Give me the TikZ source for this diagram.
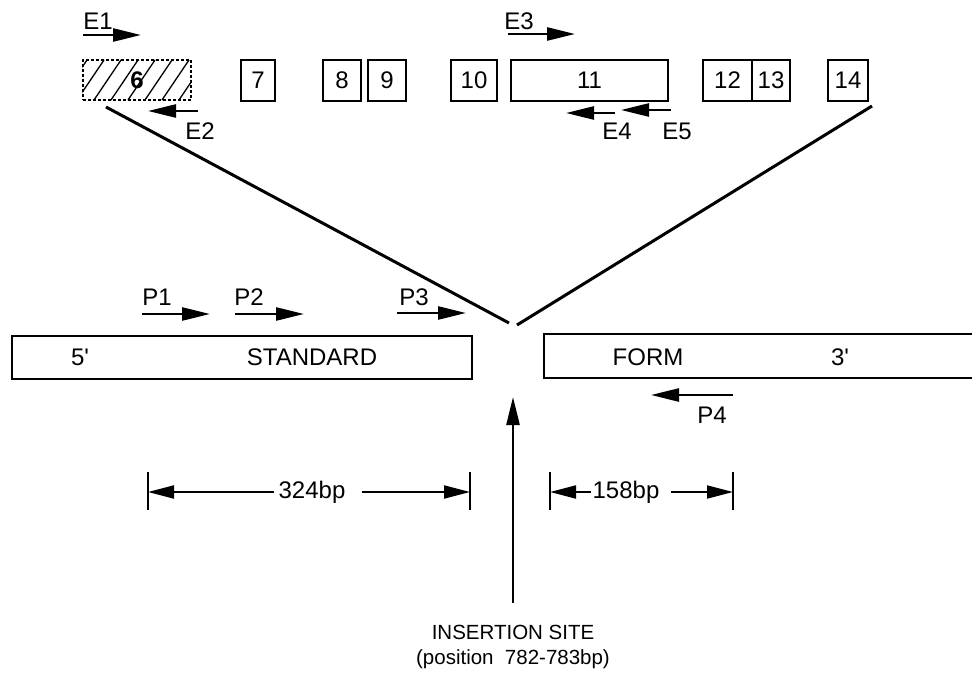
\documentclass[tikz,border=0pt]{standalone}
\usepackage{fontspec}
\setmainfont{Liberation Sans}
\usetikzlibrary{arrows.meta}
\begin{document}
\begin{tikzpicture}[x=1pt,y=-1pt,
  exon/.style={draw, line width=2pt, minimum height=41pt, inner sep=0pt, font=\fontsize{24}{28}\selectfont},
  prim/.style={line width=2.5pt, -{Triangle[length=28pt,width=13pt]}},
  dimarr/.style={line width=2pt, -{Triangle[length=26pt,width=13pt]}},
  lbl/.style={font=\fontsize{24}{28}\selectfont, inner sep=0pt},
  diag/.style={line width=3pt},
  strand/.style={draw, line width=2pt},
  bar/.style={line width=2.5pt}
  ]
\useasboundingbox (0,0) rectangle (972,679);
% exon 6 (hatched)
\node[draw, dash pattern=on 3pt off 2pt, line width=1.5pt, minimum width=108pt, minimum height=40pt, inner sep=0pt] (b6) at (137,80) {};
\begin{scope}
\clip (b6.south west) rectangle (b6.north east);
\foreach \i in {0,...,9} \draw[line width=1.3pt] (60+\i*17,100) -- ++(27,-40);
\end{scope}
\node[lbl, font=\fontsize{24}{28}\selectfont\bfseries] at (b6) {6};
% other exons
\node[exon, minimum width=34pt] (b7) at (258,80.5) {7};
\node[exon, minimum width=38pt] (b8) at (342,80.5) {8};
\node[exon, minimum width=38pt] (b9) at (387,80.5) {9};
\node[exon, minimum width=46pt] (b10) at (474,80.5) {10};
\node[exon, minimum width=157pt] (b11) at (589.5,80.5) {11};
\node[exon, minimum width=49pt] (b12) at (727.5,80.5) {12};
\node[exon, minimum width=38pt] (b13) at (771,80.5) {13};
\node[exon, minimum width=40pt] (b14) at (848,80.5) {14};
% E primers
\node[lbl] (E1) at (98,21) {E1};
\coordinate (e1s) at (83,35); \coordinate (e1e) at (141,35);
\draw[prim] (e1s) -- (e1e);
\node[lbl] (E2) at (200,131) {E2};
\coordinate (e2s) at (198,111); \coordinate (e2e) at (148,111);
\draw[prim] (e2s) -- (e2e);
\node[lbl] (E3) at (519,21) {E3};
\coordinate (e3s) at (508,34); \coordinate (e3e) at (575,34);
\draw[prim] (e3s) -- (e3e);
\node[lbl] (E4) at (617,131) {E4};
\coordinate (e4s) at (615,113); \coordinate (e4e) at (566,113);
\draw[prim] (e4s) -- (e4e);
\node[lbl] (E5) at (677,131) {E5};
\coordinate (e5s) at (671,110); \coordinate (e5e) at (621,110);
\draw[prim] (e5s) -- (e5e);
% diagonals
\coordinate (dl1) at (106,107); \coordinate (dl2) at (509,323);
\coordinate (dr1) at (872,106); \coordinate (dr2) at (517,325);
\draw[diag] (dl1) -- (dl2);
\draw[diag] (dr1) -- (dr2);
% strands
\node[strand, minimum width=460pt, minimum height=43pt, inner sep=0pt] (std) at (242,357) {};
\node[lbl] at (80,357) {5\textquotesingle};
\node[lbl] at (312,357) {STANDARD};
\coordinate (f1) at (975,334); \coordinate (f2) at (544,334);
\coordinate (f3) at (544,378); \coordinate (f4) at (975,378);
\draw[line width=2pt] (f1) -- (f2) -- (f3) -- (f4);
\node[lbl] at (648,357) {FORM};
\node[lbl] at (840,357) {3\textquotesingle};
% P primers
\node[lbl] (P1) at (157,297) {P1};
\coordinate (p1s) at (142,314); \coordinate (p1e) at (210,314);
\draw[prim] (p1s) -- (p1e);
\node[lbl] (P2) at (249,297) {P2};
\coordinate (p2s) at (235,314); \coordinate (p2e) at (304,314);
\draw[prim] (p2s) -- (p2e);
\node[lbl] (P3) at (414,297) {P3};
\coordinate (p3s) at (397,313); \coordinate (p3e) at (466,313);
\draw[prim] (p3s) -- (p3e);
\node[lbl] (P4) at (712,415) {P4};
\coordinate (p4s) at (733,395); \coordinate (p4e) at (651,395);
\draw[prim] (p4s) -- (p4e);
% dimension 324bp
\coordinate (a1) at (148,472); \coordinate (a2) at (148,510);
\coordinate (a3) at (470,472); \coordinate (a4) at (470,510);
\draw[bar] (a1) -- (a2); \draw[bar] (a3) -- (a4);
\node[lbl, inner xsep=4pt] (L324) at (312,492) {324bp};
\draw[dimarr] (L324.west) -- (a1 |- L324);
\draw[dimarr] (L324.east) ++(12,0) -- (a3 |- L324);
% dimension 158bp
\coordinate (c1) at (550,472); \coordinate (c2) at (550,510);
\coordinate (c3) at (733,472); \coordinate (c4) at (733,510);
\draw[bar] (c1) -- (c2); \draw[bar] (c3) -- (c4);
\node[lbl, inner xsep=1pt] (L158) at (626,492) {158bp};
\draw[dimarr] (L158.west) -- (c1 |- L158);
\draw[dimarr] (L158.east) ++(10,0) -- (c3 |- L158);
% insertion site
\node[font=\fontsize{20.5}{25}\selectfont, align=center, inner sep=2pt] (ins) at (513,647) {INSERTION SITE\\(position\ \ 782-783bp)};
\coordinate (ip) at (513,397);
\draw[prim] (ins.north) ++(0,-20) -- (ip);
\end{tikzpicture}
\end{document}
